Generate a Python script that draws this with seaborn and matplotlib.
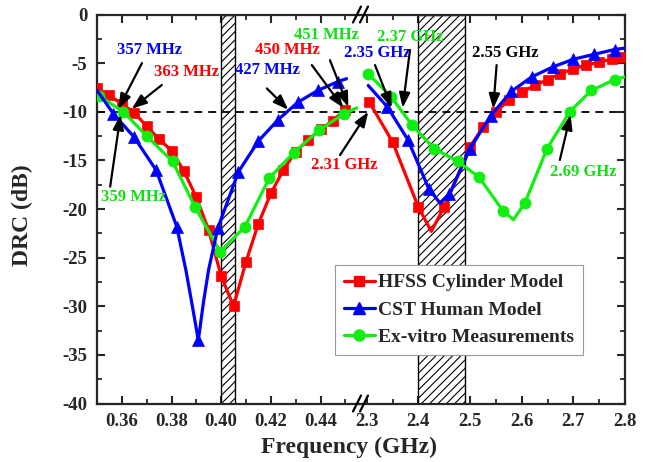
import matplotlib
matplotlib.use("Agg")
import matplotlib.pyplot as plt
from matplotlib.lines import Line2D
from matplotlib.ticker import FixedLocator, MultipleLocator, StrMethodFormatter
import seaborn as sns

# ---------------- data ----------------
# low band (GHz)
hfss_lo_f = [0.350, 0.355, 0.360, 0.365, 0.370, 0.375, 0.380, 0.385, 0.390, 0.395, 0.400,
             0.405, 0.410, 0.415, 0.420, 0.425, 0.430, 0.435, 0.440, 0.445, 0.450]
hfss_lo_db = [-7.6, -8.3, -9.2, -10.1, -11.5, -12.8, -14.0, -16.1, -18.8, -22.2, -26.9,
              -30.0, -25.4, -21.5, -18.4, -16.0, -14.1, -12.9, -11.8, -10.9, -9.8]
hfss_lo_mk = list(range(21))

cst_lo_f = [0.3500, 0.3566, 0.3649, 0.3738, 0.3821, 0.3858, 0.3882, 0.3908, 0.3928, 0.3949,
            0.3986, 0.4069, 0.4150, 0.4230, 0.4310, 0.4390, 0.4470, 0.4505]
cst_lo_db = [-7.8, -10.2, -12.6, -16.0, -21.8, -26.3, -29.7, -33.5, -29.7, -26.3,
             -22.0, -16.2, -13.0, -10.8, -9.0, -7.8, -6.9, -6.6]
cst_lo_mk = [1, 2, 3, 4, 7, 10, 11, 12, 13, 14, 15, 16]

meas_lo_f = [0.3510, 0.3606, 0.3700, 0.3804, 0.3895, 0.3996, 0.4096, 0.4194, 0.4293,
             0.4394, 0.4495, 0.4546]
meas_lo_db = [-8.4, -10.0, -12.5, -15.1, -19.8, -24.4, -21.8, -16.8, -14.2, -11.9, -10.2, -9.6]
meas_lo_mk = list(range(11))

# high band (GHz)
hfss_hi_f = [2.305, 2.350, 2.400, 2.425, 2.450, 2.500, 2.525, 2.550, 2.575, 2.600, 2.625,
             2.650, 2.675, 2.700, 2.725, 2.750, 2.775, 2.790]
hfss_hi_db = [-9.0, -13.1, -19.8, -22.3, -19.8, -13.6, -11.6, -10.0, -8.8, -8.0, -7.3,
              -6.7, -6.1, -5.6, -5.2, -4.9, -4.6, -4.4]
hfss_hi_mk = [0, 1, 2, 4, 5, 6, 7, 8, 9, 10, 11, 12, 13, 14, 15, 16, 17]

cst_hi_f = [2.303, 2.340, 2.380, 2.420, 2.442, 2.460, 2.500, 2.540, 2.580, 2.620, 2.660,
            2.700, 2.740, 2.780, 2.800]
cst_hi_db = [-7.3, -9.5, -12.9, -17.9, -19.4, -18.5, -13.8, -10.4, -7.9, -6.4, -5.4,
             -4.6, -4.1, -3.6, -3.45]
cst_hi_mk = [1, 2, 3, 5, 6, 7, 8, 9, 10, 11, 12, 13]

meas_hi_f = [2.303, 2.348, 2.388, 2.431, 2.476, 2.517, 2.564, 2.584, 2.606, 2.649, 2.693,
             2.735, 2.780, 2.800]
meas_hi_db = [-6.1, -8.5, -11.4, -13.8, -15.1, -16.7, -20.2, -21.1, -19.4, -13.8, -10.0,
              -7.8, -6.7, -6.4]
meas_hi_mk = [0, 1, 2, 3, 4, 5, 6, 8, 9, 10, 11, 12]

series_names = ["HFSS Cylinder Model", "CST Human Model", "Ex-vitro Measurements"]

lo_ticks = [0.36, 0.38, 0.40, 0.42, 0.44]
hi_ticks = [2.3, 2.4, 2.5, 2.6, 2.7, 2.8]
y_ticks = [0, -5, -10, -15, -20, -25, -30, -35, -40]

bands_lo = (0.400, 0.4055)
bands_hi = (2.400, 2.490)
threshold = -10

# annotations: (axis, text, color, text_xy, tail_xy, head_xy)
notes = [
    ("lo", "357 MHz", "blue", (0.3710, -3.65), (0.3681, -5.0), (0.3586, -9.7)),
    ("lo", "363 MHz", "red", (0.3859, -5.9), (0.3761, -7.25), (0.3640, -9.7)),
    ("lo", "359 MHz", "green", (0.3646, -18.8), (0.3553, -17.7), (0.3595, -10.3)),
    ("lo", "427 MHz", "blue", (0.4185, -5.7), (0.4184, -7.6), (0.4270, -9.8)),
    ("lo", "450 MHz", "red", (0.4265, -3.65), (0.4365, -5.2), (0.4492, -9.6)),
    ("lo", "451 MHz", "green", (0.4422, -2.1), (0.4438, -4.7), (0.4512, -9.5)),
    ("hi", "2.31 GHz", "red", (2.2561, -15.5), (2.2484, -14.45), (2.3031, -10.0)),
    ("hi", "2.35 GHz", "blue", (2.3199, -3.95), (2.3161, -5.2), (2.3484, -9.6)),
    ("hi", "2.37 GHz", "green", (2.3838, -2.3), (2.3838, -3.65), (2.3696, -9.6)),
    ("hi", "2.55 GHz", "black", (2.5675, -3.95), (2.5515, -5.2), (2.5449, -9.7)),
    ("hi", "2.69 GHz", "green", (2.7184, -16.2), (2.6739, -14.96), (2.6946, -10.3)),
]

# ---------------- style ----------------
sns.set_style("ticks", {"xtick.direction": "in", "ytick.direction": "in"})
plt.rcParams["font.family"] = ["Liberation Serif", "DejaVu Serif"]
plt.rcParams["font.weight"] = "bold"
plt.rcParams["axes.unicode_minus"] = False
plt.rcParams["hatch.linewidth"] = 0.8

RED, BLUE, GREEN = "#FF0000", "#0000FF", "#11EE11"
cmap = {"red": RED, "blue": BLUE, "green": "#10E010", "black": "black"}

fig = plt.figure(figsize=(6.54, 4.62), dpi=100)
fig.patch.set_facecolor("white")
W, H = 654.0, 462.0
top_px, bot_px = 14.5, 403.5
axL = fig.add_axes([97 / W, 1 - bot_px / H, (359 - 97) / W, (bot_px - top_px) / H])
axR = fig.add_axes([359 / W, 1 - bot_px / H, (625 - 359) / W, (bot_px - top_px) / H])
for ax in (axL, axR):
    ax.patch.set_visible(False)

def draw(ax, f, db, color, marker, ms, mk):
    sns.lineplot(x=f, y=db, ax=ax, color=color, lw=2.3, marker=marker, markersize=ms,
                 markevery=mk, markeredgecolor=color, markeredgewidth=0.5,
                 sort=False, errorbar=None, legend=False, zorder=4)

draw(axL, hfss_lo_f, hfss_lo_db, RED, "s", 7, hfss_lo_mk)
draw(axL, meas_lo_f, meas_lo_db, GREEN, "o", 8, meas_lo_mk)
draw(axL, cst_lo_f, cst_lo_db, BLUE, "^", 9, cst_lo_mk)
draw(axR, hfss_hi_f, hfss_hi_db, RED, "s", 7, hfss_hi_mk)
draw(axR, cst_hi_f, cst_hi_db, BLUE, "^", 9, cst_hi_mk)
draw(axR, meas_hi_f, meas_hi_db, GREEN, "o", 8, meas_hi_mk)

for ax, band in ((axL, bands_lo), (axR, bands_hi)):
    ax.axvspan(band[0], band[1], facecolor="white", edgecolor="black", hatch="////",
               lw=1.0, zorder=1)
    ax.axhline(threshold, color="black", lw=1.3, ls=(0, (4.4, 3.3)), zorder=2)

axL.set_xlim(0.35, 0.35 + (359 - 96.85) / 2485)
axR.set_xlim(2.3 - (366.7 - 359) / 517, 2.8)
for ax in (axL, axR):
    ax.set_ylim(-40, 0)
    ax.set_xlabel("")
    ax.set_ylabel("")
    for s in ax.spines.values():
        s.set_linewidth(1.6)
    ax.tick_params(which="major", length=6, width=1.5, direction="in", labelsize=13.5, pad=7)
    ax.tick_params(which="minor", length=3.5, width=1.3, direction="in")
    ax.yaxis.set_major_locator(FixedLocator(y_ticks))
    ax.yaxis.set_minor_locator(MultipleLocator(2.5))

axL.spines["right"].set_visible(False)
axR.spines["left"].set_visible(False)
axL.tick_params(which="both", top=True, bottom=True, left=True, right=False)
axR.tick_params(which="both", top=True, bottom=True, left=False, right=True,
                labelleft=False, labelright=False)

axL.xaxis.set_major_locator(FixedLocator(lo_ticks))
axL.xaxis.set_minor_locator(FixedLocator([0.35, 0.37, 0.39, 0.41, 0.43, 0.45]))
axL.xaxis.set_major_formatter(StrMethodFormatter("{x:.2f}"))
axR.xaxis.set_major_locator(FixedLocator(hi_ticks))
axR.xaxis.set_minor_locator(FixedLocator([2.35, 2.45, 2.55, 2.65, 2.75]))
axR.xaxis.set_major_formatter(StrMethodFormatter("{x:.1f}"))
axL.yaxis.set_major_formatter(StrMethodFormatter("{x:.0f}"))

# break marks "//"
for yb in (bot_px, top_px):
    for xo in (-4, 3):
        fig.add_artist(Line2D([(357 + xo) / W, (365 + xo) / W],
                              [1 - (yb + 8) / H, 1 - (yb - 8) / H],
                              color="black", lw=1.6))

# annotations
for axn, txt, col, txy, tail, head in notes:
    ax = axL if axn == "lo" else axR
    ax.annotate("", xy=head, xytext=tail,
                arrowprops=dict(arrowstyle="-|>,head_length=0.9,head_width=0.33",
                                color="black", lw=1.6, shrinkA=0, shrinkB=0),
                annotation_clip=False, zorder=6)
    ax.text(txy[0], txy[1], txt, color=cmap[col], fontsize=12, fontweight="bold",
            ha="center", va="center", clip_on=False, zorder=6)

# legend
handles = [
    Line2D([], [], color=RED, lw=2.3, marker="s", ms=7, mec=RED),
    Line2D([], [], color=BLUE, lw=2.3, marker="^", ms=9, mec=BLUE),
    Line2D([], [], color=GREEN, lw=2.3, marker="o", ms=8, mec=GREEN),
]
leg = fig.legend(handles, series_names, loc="upper left",
                 bbox_to_anchor=(335 / W, 1 - 265 / H), frameon=True, fancybox=False,
                 framealpha=1, edgecolor="#9a9a9a", fontsize=14, handlelength=1.6,
                 handletextpad=0.15, labelspacing=0.5, borderpad=0.45, borderaxespad=0,
                 prop={"weight": "bold", "size": 14})
leg.get_frame().set_linewidth(0.8)
leg.set_zorder(10)

fig.text(349 / W, 1 - 447 / H, "Frequency (GHz)", ha="center", va="center",
         fontsize=17, fontweight="bold")
fig.text(22 / W, 1 - 215 / H, "DRC (dB)", ha="center", va="center", rotation=90,
         fontsize=17, fontweight="bold")

fig.savefig("out.png", dpi=100, facecolor="white")
